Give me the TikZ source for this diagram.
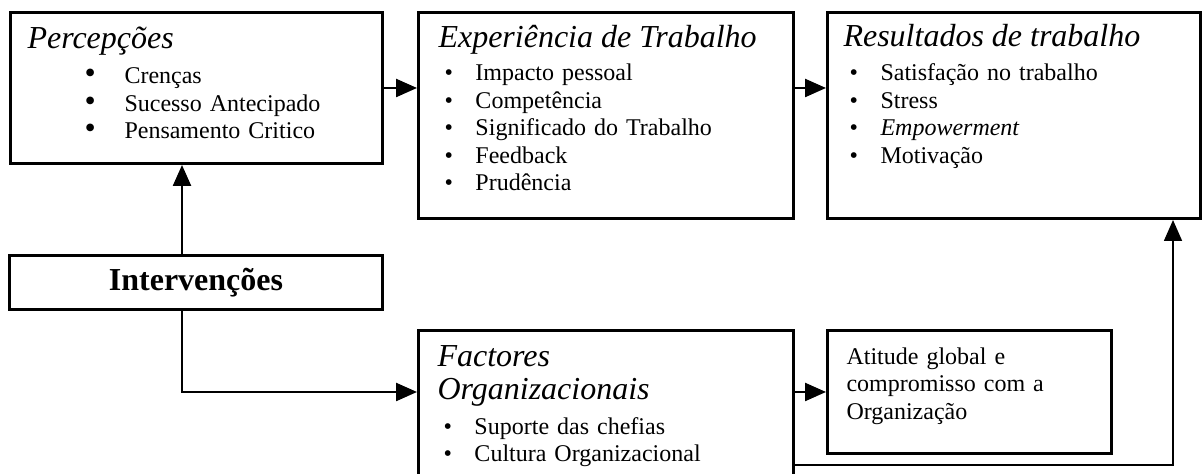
\documentclass[tikz,border=0pt]{standalone}
\usepackage{fontspec}
\setmainfont{Liberation Serif}
\usepackage{tikz}
\usetikzlibrary{arrows.meta}

\newcommand{\topico}{\hspace*{3pt}\makebox[15.5pt][l]{\textbullet}}
\newcommand{\topicogrande}{\hspace*{28.5pt}\makebox[20pt][l]{\fontsize{16}{16}\selectfont\textbullet}}
\newcommand{\titulo}[1]{{\fontsize{16}{17}\selectfont\itshape #1}}

\begin{document}
\begin{tikzpicture}[x=1pt, y=1pt,
    borda/.style={draw, line width=1.5pt},
    caixa/.style={borda, anchor=north west, inner ysep=0pt, align=left,
                  text height=18pt, font=\fontsize{12}{13.75}\selectfont},
    seta/.style={-{Triangle[length=10.5pt,width=9pt]}, line width=1.2pt}]
\useasboundingbox (0,0) rectangle (601,237);

\node[caixa, inner xsep=8.5pt, text width=169pt, text depth=57.5pt] (perc) at (4.5,231.5)
  {\titulo{Percepções}\\[4pt]
   \topicogrande Crenças\\
   \topicogrande Sucesso Antecipado\\
   \topicogrande Pensamento Critico};
\node[caixa, inner xsep=10pt, text width=167.5pt, text height=17.5pt, text depth=85.5pt] (exp) at (208.5,231.5)
  {\titulo{Experiência de Trabalho}\\[3pt]
   \topico Impacto pessoal\\
   \topico Competência\\
   \topico Significado do Trabalho\\
   \topico Feedback\\
   \topico Prudência};
\node[caixa, inner xsep=8pt, text width=170.5pt, text height=17pt, text depth=86pt] (res) at (413,231.5)
  {\titulo{Resultados de trabalho}\\[3.5pt]
   \topico Satisfação no trabalho\\
   \topico Stress\\
   \topico \textit{Empowerment}\\
   \topico Motivação};
\node[borda, anchor=north west, minimum width=186.5pt, minimum height=27pt, inner sep=0pt,
      font=\fontsize{16}{17}\selectfont\bfseries] (interv) at (4,110) {Intervenções};
\node[caixa, inner xsep=9.5pt, text width=168.5pt, text depth=62pt] (fact) at (208.5,72.5)
  {\titulo{Factores}\\[3pt]
   \titulo{Organizacionais}\\[3.5pt]
   \topico Suporte das chefias\\
   \topico Cultura Organizacional};
\node[caixa, inner xsep=9.5pt, text width=123pt, text height=17pt, text depth=44.5pt] (atit) at (413,72.5)
  {Atitude global e\\
   compromisso com a\\
   Organização};

% ligacoes
\coordinate (tronco) at (91,0);
\coordinate (retorno) at (586.5,4.5);
\draw[seta] (perc.east) -- (exp.west |- perc.east);
\draw[seta] (exp.east |- perc.east) -- (res.west |- perc.east);
\draw[seta] (interv.north -| tronco) -- (perc.south -| tronco);
\draw[seta] (interv.south -| tronco) |- (atit.west -| fact.west);
\draw[seta] (atit.west -| fact.east) -- (atit.west);
\draw[seta, line width=0.8pt] (retorno -| fact.east) -- (retorno) -- (retorno |- res.south);
\end{tikzpicture}
\end{document}
